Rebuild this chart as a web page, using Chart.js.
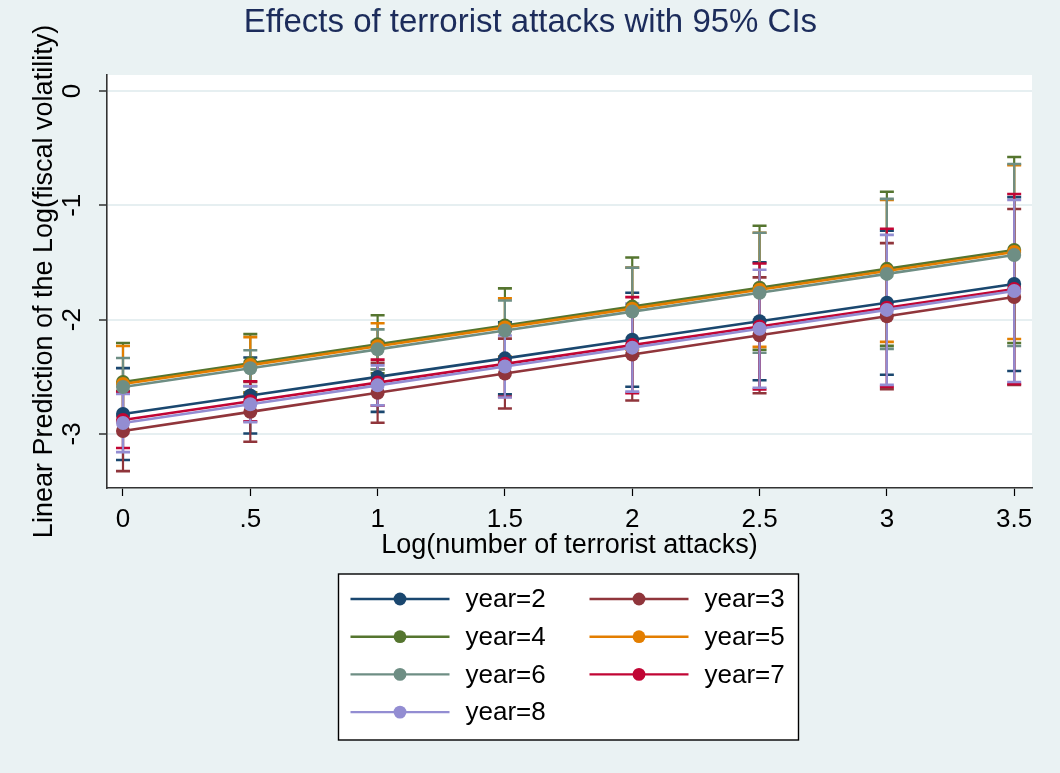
<!DOCTYPE html>
<html>
<head>
<meta charset="utf-8">
<script src="https://cdn.jsdelivr.net/npm/chart.js@4.4.1/dist/chart.umd.min.js"></script>
<style>
  html, body { margin: 0; padding: 0; background: #EAF2F3; }
  #wrap { width: 1060px; height: 773px; }
</style>
</head>
<body>
<div id="wrap"><canvas id="c" width="1060" height="773"></canvas></div>
<script>
// Log(number of terrorist attacks) at which the margins are evaluated
const xs = [0, 0.5, 1, 1.5, 2, 2.5, 3, 3.5];
const xTickLabels = ["0", ".5", "1", "1.5", "2", "2.5", "3", "3.5"];
const yTickValues = [0, -1, -2, -3];
const yTickLabels = ["0", "-1", "-2", "-3"];

const seriesNames = ["year=2", "year=3", "year=4", "year=5", "year=6", "year=7", "year=8"];
const seriesColors = ["#1a476f", "#90353b", "#55752f", "#e37e00", "#6e8e84", "#c10534", "#938dd2"];

// Linear predictions
const year2 = [-2.826, -2.664, -2.501, -2.339, -2.176, -2.014, -1.852, -1.689];
const year3 = [-2.975, -2.807, -2.640, -2.472, -2.305, -2.137, -1.970, -1.802];
const year4 = [-2.546, -2.381, -2.216, -2.051, -1.886, -1.721, -1.556, -1.391];
const year5 = [-2.563, -2.398, -2.233, -2.068, -1.904, -1.739, -1.574, -1.409];
const year6 = [-2.590, -2.425, -2.260, -2.095, -1.930, -1.765, -1.600, -1.435];
const year7 = [-2.878, -2.714, -2.551, -2.387, -2.223, -2.060, -1.896, -1.732];
const year8 = [-2.905, -2.740, -2.575, -2.410, -2.245, -2.080, -1.915, -1.750];

// 95% confidence bounds
const year2Lo = [-3.228, -2.996, -2.807, -2.654, -2.587, -2.530, -2.482, -2.450];
const year2Hi = [-2.424, -2.332, -2.195, -2.024, -1.765, -1.498, -1.222, -0.928];
const year3Lo = [-3.325, -3.069, -2.902, -2.778, -2.707, -2.644, -2.609, -2.572];
const year3Hi = [-2.625, -2.545, -2.378, -2.166, -1.903, -1.630, -1.331, -1.032];
const year4Lo = [-2.887, -2.635, -2.470, -2.375, -2.315, -2.263, -2.230, -2.205];
const year4Hi = [-2.205, -2.127, -1.962, -1.727, -1.457, -1.179, -0.882, -0.577];
const year5Lo = [-2.895, -2.643, -2.434, -2.322, -2.263, -2.238, -2.195, -2.170];
const year5Hi = [-2.231, -2.153, -2.032, -1.814, -1.545, -1.240, -0.953, -0.648];
const year6Lo = [-2.844, -2.582, -2.435, -2.357, -2.315, -2.290, -2.256, -2.231];
const year6Hi = [-2.336, -2.268, -2.085, -1.833, -1.545, -1.240, -0.944, -0.639];
const year7Lo = [-3.123, -2.889, -2.752, -2.676, -2.643, -2.611, -2.587, -2.563];
const year7Hi = [-2.633, -2.539, -2.350, -2.098, -1.803, -1.509, -1.205, -0.901];
const year8Lo = [-3.159, -2.897, -2.750, -2.681, -2.630, -2.596, -2.571, -2.546];
const year8Hi = [-2.651, -2.583, -2.400, -2.139, -1.860, -1.564, -1.259, -0.954];

const predictions = [year2, year3, year4, year5, year6, year7, year8];
const lowers = [year2Lo, year3Lo, year4Lo, year5Lo, year6Lo, year7Lo, year8Lo];
const uppers = [year2Hi, year3Hi, year4Hi, year5Hi, year6Hi, year7Hi, year8Hi];

const FONT = "'Liberation Sans', Arial, Helvetica, sans-serif";
const TEXT_SIZE = 26;
const AXIS_TITLE_SIZE = 27;

const datasets = seriesNames.map((name, k) => ({
  label: name,
  data: xs.map((x, i) => ({ x: x, y: predictions[k][i] })),
  ciLo: lowers[k],
  ciHi: uppers[k],
  borderColor: seriesColors[k],
  backgroundColor: seriesColors[k],
  pointBackgroundColor: seriesColors[k],
  pointBorderWidth: 0,
  pointRadius: 7,
  borderWidth: 2.6,
  tension: 0,
  fill: false,
  order: -k
}));

// Graph region and plot region backgrounds
const backdrop = {
  id: 'backdrop',
  beforeDraw(chart) {
    const { ctx, chartArea: a } = chart;
    ctx.save();
    ctx.fillStyle = '#EAF2F3';
    ctx.fillRect(0, 0, chart.width, chart.height);
    ctx.fillStyle = '#ffffff';
    ctx.fillRect(a.left, a.top, a.right - a.left, a.bottom - a.top);
    ctx.restore();
  }
};

// Capped confidence-interval spikes, drawn underneath the fitted lines
const ciCaps = {
  id: 'ciCaps',
  beforeDatasetsDraw(chart) {
    const { ctx, chartArea: a } = chart;
    const xS = chart.scales.x, yS = chart.scales.y;
    ctx.save();
    ctx.beginPath();
    ctx.rect(a.left, a.top, a.right - a.left, a.bottom - a.top);
    ctx.clip();
    chart.data.datasets.forEach((ds) => {
      ctx.strokeStyle = ds.borderColor;
      xs.forEach((x, i) => {
        const px = xS.getPixelForValue(x);
        const pLo = yS.getPixelForValue(ds.ciLo[i]);
        const pHi = yS.getPixelForValue(ds.ciHi[i]);
        ctx.lineWidth = 2.2;
        ctx.beginPath();
        ctx.moveTo(px, pLo);
        ctx.lineTo(px, pHi);
        ctx.stroke();
        ctx.lineWidth = 2.6;
        ctx.beginPath();
        ctx.moveTo(px - 7, pLo); ctx.lineTo(px + 7, pLo);
        ctx.moveTo(px - 7, pHi); ctx.lineTo(px + 7, pHi);
        ctx.stroke();
      });
    });
    ctx.restore();
  }
};

// Vertical tick labels on the y axis
const yLabels = {
  id: 'yLabels',
  afterDraw(chart) {
    const { ctx } = chart;
    const yS = chart.scales.y;
    ctx.save();
    ctx.fillStyle = '#000';
    ctx.font = TEXT_SIZE + 'px ' + FONT;
    ctx.textAlign = 'center';
    ctx.textBaseline = 'middle';
    yTickValues.forEach((v, i) => {
      const py = yS.getPixelForValue(v);
      ctx.save();
      ctx.translate(yS.right - 34, py);
      ctx.rotate(-Math.PI / 2);
      ctx.fillText(yTickLabels[i], 0, 0);
      ctx.restore();
    });
    ctx.restore();
  }
};

// Boxed two-column key below the plot
const keyBox = {
  id: 'keyBox',
  afterDraw(chart) {
    const { ctx, chartArea: a } = chart;
    const cx = (a.left + a.right) / 2;
    const boxW = 460, boxH = 166;
    const left = Math.round(cx - boxW / 2 - 2) + 0.5, top = a.bottom + 86;
    ctx.save();
    ctx.fillStyle = '#ffffff';
    ctx.fillRect(left, top, boxW, boxH);
    ctx.strokeStyle = '#000';
    ctx.lineWidth = 1.4;
    ctx.strokeRect(left, top, boxW, boxH);
    ctx.font = TEXT_SIZE + 'px ' + FONT;
    ctx.textBaseline = 'middle';
    ctx.textAlign = 'left';
    chart.data.datasets.forEach((ds, k) => {
      const col = k % 2, row = Math.floor(k / 2);
      const x0 = left + 12 + col * 239;
      const y0 = top + 25 + row * 37.7;
      ctx.strokeStyle = ds.borderColor;
      ctx.lineWidth = 2.4;
      ctx.beginPath();
      ctx.moveTo(x0, y0);
      ctx.lineTo(x0 + 99, y0);
      ctx.stroke();
      ctx.fillStyle = ds.borderColor;
      ctx.beginPath();
      ctx.arc(x0 + 49.5, y0, 6.4, 0, Math.PI * 2);
      ctx.fill();
      ctx.fillStyle = '#000';
      ctx.fillText(ds.label, x0 + 115, y0 + 1);
    });
    ctx.restore();
  }
};

new Chart(document.getElementById('c'), {
  type: 'line',
  data: { datasets: datasets },
  plugins: [backdrop, ciCaps, yLabels, keyBox],
  options: {
    responsive: false,
    animation: false,
    devicePixelRatio: 1,
    layout: { padding: { left: 28.8, right: 28, top: 0, bottom: 210.8 } },
    plugins: {
      legend: { display: false },
      tooltip: { enabled: false },
      title: {
        display: true,
        text: 'Effects of terrorist attacks with 95% CIs',
        color: '#1C2C5B',
        font: { family: FONT, size: 33, weight: 'normal', lineHeight: 1.2 },
        padding: { top: 3.2, bottom: 32.2 }
      }
    },
    scales: {
      x: {
        type: 'linear',
        min: -0.0628,
        max: 3.570,
        afterBuildTicks(scale) { scale.ticks = xs.map(v => ({ value: v })); },
        afterFit(scale) { scale.height = 74.2; },
        ticks: {
          color: '#000',
          font: { family: FONT, size: TEXT_SIZE },
          padding: 8.4,
          maxRotation: 0,
          autoSkip: false,
          callback: (v) => { const i = xs.indexOf(v); return i >= 0 ? xTickLabels[i] : ''; }
        },
        grid: { drawOnChartArea: false, drawTicks: true, tickLength: 8, tickColor: '#000', tickWidth: 1.2 },
        border: { display: true, color: '#333', width: 1.6 },
        title: {
          display: true,
          text: 'Log(number of terrorist attacks)',
          color: '#000',
          font: { family: FONT, size: AXIS_TITLE_SIZE, lineHeight: 1.2 },
          padding: { top: 0, bottom: 0 }
        }
      },
      y: {
        type: 'linear',
        min: -3.473,
        max: 0.140,
        afterBuildTicks(scale) { scale.ticks = yTickValues.map(v => ({ value: v })); },
        afterFit(scale) { scale.width = 78.2; },
        ticks: { display: false },
        grid: { color: '#E6EFF1', lineWidth: 2, drawTicks: true, tickLength: 8, tickColor: '#000', tickWidth: 1.2 },
        border: { display: true, color: '#333', width: 1.6 },
        title: {
          display: true,
          text: 'Linear Prediction of the Log(fiscal volatility)',
          color: '#000',
          font: { family: FONT, size: AXIS_TITLE_SIZE, lineHeight: 1.2 },
          padding: { top: 0, bottom: 0 }
        }
      }
    }
  }
});
</script>
</body>
</html>
